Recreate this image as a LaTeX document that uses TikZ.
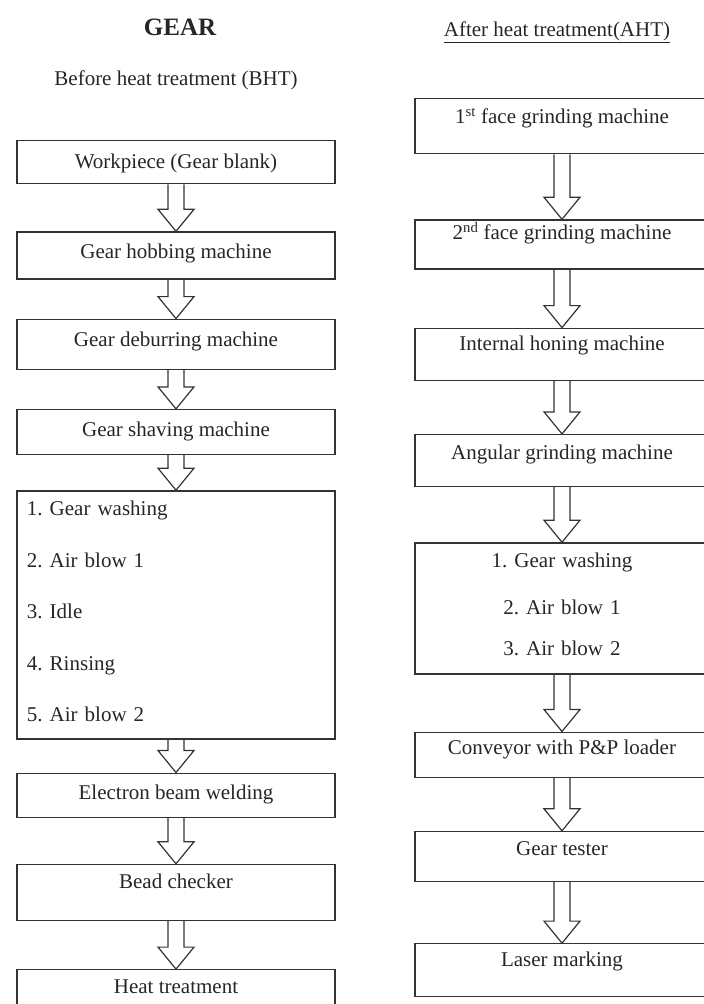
\documentclass[tikz,border=0pt]{standalone}
\usepackage{fontspec}
\setmainfont{Liberation Serif}
\usepackage{xcolor}
\usepackage{tikz}
\usetikzlibrary{positioning,calc}
\frenchspacing

\begin{document}
\begin{tikzpicture}[
  x=1pt, y=-1pt,
  every node/.style={font=\fontsize{21}{25}\selectfont, text=black!85},
  bht/.style 2 args={draw=black!80, line width=1.3pt, anchor=north, minimum width=318pt,
              inner xsep=0pt, inner ysep=0pt, text height=#1, text depth=#2},
  aht/.style 2 args={bht={#1}{#2}, minimum width=294pt},
  blk/.style={draw=black!80, line width=1.2pt, line join=miter,
              to path={($(\tikztostart.south)+(-8,0)$) -- ($(\tikztotarget.north)+(-8,-22)$)
                -- ($(\tikztotarget.north)+(-18,-22)$) -- (\tikztotarget.north)
                -- ($(\tikztotarget.north)+(18,-22)$) -- ($(\tikztotarget.north)+(8,-22)$)
                -- ($(\tikztostart.south)+(8,0)$)}}]
  \useasboundingbox (0,0) rectangle (704,1004);
  \clip (0,0) rectangle (704,1004);

  \node[font=\bfseries\fontsize{25}{30}\selectfont] (gear) at (180,27) {GEAR};
  \node (bhead) at (176,80) {Before heat treatment (BHT)};
  \node (ahead) at (557,32) {\underline{After heat treatment(AHT)}};

  \node[bht={28pt}{15pt}] (b1) at (176,140) {Workpiece (Gear blank)};
  \node[bht={27pt}{20pt}, below=47pt of b1] (b2) {Gear hobbing machine};
  \node[bht={27pt}{23pt}, below=39pt of b2] (b3) {Gear deburring machine};
  \node[bht={27pt}{18pt}, below=39pt of b3] (b4) {Gear shaving machine};
  \node[bht={25pt}{223pt}, below=35pt of b4, text width=298pt, inner xsep=10pt, align=left] (b5)
    {1. Gear washing\\[26.5pt]2. Air blow 1\\[26.5pt]3. Idle\\[26.5pt]4. Rinsing\\[26.5pt]5. Air blow 2};
  \node[bht={26pt}{18pt}, below=33pt of b5] (b6) {Electron beam welding};
  \node[bht={24pt}{32pt}, below=46pt of b6] (b7) {Bead checker};
  \node[bht={24pt}{30pt}, below=48pt of b7] (b8) {Heat treatment};

  \node[aht={25pt}{30pt}] (r1) at (562,98) {1\textsuperscript{st} face grinding machine};
  \node[aht={20pt}{29pt}, below=65pt of r1] (r2) {2\textsuperscript{nd} face grinding machine};
  \node[aht={22pt}{30pt}, below=58pt of r2] (r3) {Internal honing machine};
  \node[aht={25pt}{27pt}, below=53pt of r3] (r4) {Angular grinding machine};
  \node[aht={25pt}{106pt}, below=55pt of r4, text width=274pt, inner xsep=10pt, align=center] (r5)
    {1. Gear washing\\[22pt]2. Air blow 1\\[16pt]3. Air blow 2};
  \node[aht={22pt}{23pt}, below=57pt of r5] (r6) {Conveyor with P\&P loader};
  \node[aht={24pt}{26pt}, below=53pt of r6] (r7) {Gear tester};
  \node[aht={23pt}{30pt}, below=61pt of r7] (r8) {Laser marking};

  \draw[blk] (b1) to (b2);
  \draw[blk] (b2) to (b3);
  \draw[blk] (b3) to (b4);
  \draw[blk] (b4) to (b5);
  \draw[blk] (b5) to (b6);
  \draw[blk] (b6) to (b7);
  \draw[blk] (b7) to (b8);
  \draw[blk] (r1) to (r2);
  \draw[blk] (r2) to (r3);
  \draw[blk] (r3) to (r4);
  \draw[blk] (r4) to (r5);
  \draw[blk] (r5) to (r6);
  \draw[blk] (r6) to (r7);
  \draw[blk] (r7) to (r8);
\end{tikzpicture}
\end{document}
